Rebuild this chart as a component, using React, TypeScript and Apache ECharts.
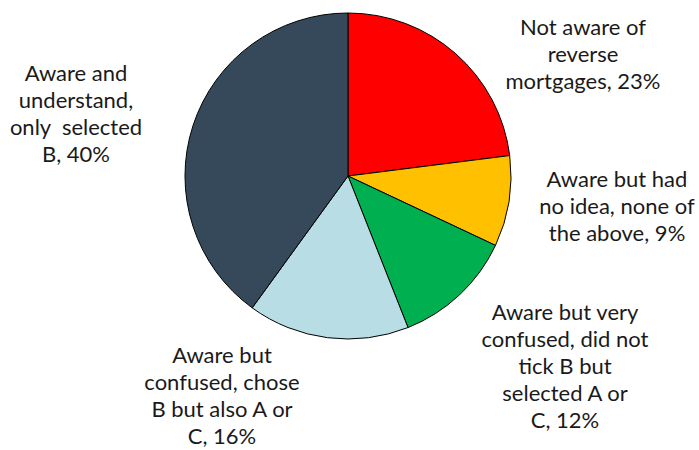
import React, { useEffect, useRef } from "react";
import * as echarts from "echarts";

const categories = [
  "Not aware of\nreverse\nmortgages, 23%",
  "Aware but had\nno idea, none of\nthe above, 9%",
  "Aware but very\nconfused, did not\ntick B but\nselected A or\nC, 12%",
  "Aware but\nconfused, chose\nB but also A or\nC, 16%",
  "Aware and\nunderstand,\nonly  selected\nB, 40%",
];
const values = [23, 9, 12, 16, 40];
const colors = ["#FF0000", "#FFC000", "#00B050", "#B9DDE4", "#35495A"];
const labelPos = [
  [583, 53],
  [617, 205],
  [565, 365],
  [222, 395],
  [76, 113],
];

export default function App() {
  const ref = useRef<HTMLDivElement>(null);
  useEffect(() => {
    if (!ref.current) return;
    const chart = echarts.init(ref.current, undefined, { renderer: "svg" });
    chart.setOption({
      animation: false,
      backgroundColor: "#ffffff",
      series: [
        {
          type: "pie",
          center: [348, 176],
          radius: 163,
          startAngle: 90,
          clockwise: true,
          silent: true,
          itemStyle: { borderColor: "#000000", borderWidth: 1 },
          label: {
            show: true,
            formatter: "{b}",
            fontFamily: "Lato, 'Open Sans', sans-serif",
            fontSize: 22,
            lineHeight: 27,
            color: "#1a1a1a",
            align: "center",
            overflow: "none",
            width: 300,
          },
          labelLine: { show: false },
          labelLayout: (params: any) => {
            const p = labelPos[params.dataIndex];
            return { x: p[0], y: p[1], align: "center", verticalAlign: "middle" };
          },
          data: categories.map((c, i) => ({
            name: c,
            value: values[i],
            itemStyle: { color: colors[i] },
          })),
        },
      ],
    });
    return () => chart.dispose();
  }, []);
  return <div ref={ref} style={{ width: 699, height: 450, position: "absolute", left: 0, top: 0 }} />;
}
